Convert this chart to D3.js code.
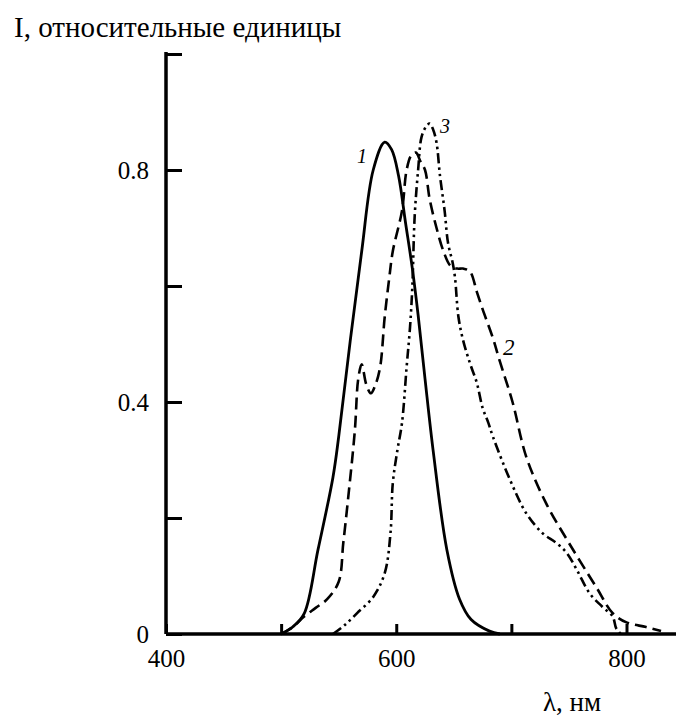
<!DOCTYPE html>
<html>
<head>
<meta charset="utf-8">
<script src="https://cdn.jsdelivr.net/npm/d3@7"></script>
<style>
  body { margin: 0; background: #fff; }
</style>
</head>
<body>
<svg id="chart" width="676" height="717"></svg>
<script>

// curve 1 (solid)
var nm_1 = [500, 510, 520, 532, 545, 550, 560, 570, 580, 590, 596, 602, 608, 614, 619, 625, 632, 644, 655, 665, 681, 690];
var int_1 = [0, 0.012, 0.035, 0.145, 0.27, 0.34, 0.505, 0.66, 0.8, 0.848, 0.835, 0.79, 0.71, 0.63, 0.55, 0.44, 0.317, 0.145, 0.06, 0.025, 0.005, 0];

// curve 2 (dashed)
var nm_2 = [500, 510, 520, 530, 540, 550, 554, 558, 564, 567, 570, 574, 578, 582, 586, 590, 594, 597, 605, 609, 613, 617, 621, 625, 629, 635, 641, 647, 653, 658, 664, 670, 675, 684, 690, 701, 713, 730, 750, 774, 788, 800, 817, 830];
var int_2 = [0, 0.012, 0.03, 0.045, 0.06, 0.09, 0.157, 0.23, 0.35, 0.44, 0.465, 0.43, 0.415, 0.43, 0.46, 0.547, 0.615, 0.66, 0.73, 0.8, 0.825, 0.83, 0.815, 0.8, 0.75, 0.7, 0.66, 0.635, 0.63, 0.63, 0.625, 0.59, 0.56, 0.51, 0.47, 0.40, 0.305, 0.226, 0.157, 0.08, 0.036, 0.02, 0.012, 0.005];

// curve 3 (dash-dot-dot)
var nm_3 = [545, 555, 566, 580, 590, 595, 597, 601, 605, 609, 612, 614, 616, 619, 622, 626, 629, 632, 635, 638, 642, 645, 649, 651, 654, 658, 664, 670, 675, 680, 684, 699, 713, 727, 739, 748, 757, 768, 779, 788, 791, 795];
var int_3 = [0, 0.015, 0.036, 0.064, 0.105, 0.174, 0.26, 0.317, 0.364, 0.46, 0.53, 0.6, 0.72, 0.8, 0.857, 0.875, 0.88, 0.87, 0.847, 0.79, 0.73, 0.674, 0.64, 0.615, 0.547, 0.507, 0.467, 0.433, 0.39, 0.364, 0.34, 0.265, 0.208, 0.174, 0.157, 0.14, 0.11, 0.07, 0.047, 0.03, 0.01, 0];

var yTicks = [0, 0.2, 0.4, 0.6, 0.8, 1.0];
var yLabels = [0, 0.4, 0.8];
var xTicks = [400, 500, 600, 700, 800];
var xLabels = [400, 600, 800];

var serif = "'Liberation Serif', 'DejaVu Serif', serif";
var svg = d3.select("#chart");

var x = d3.scaleLinear().domain([400, 843]).range([166, 676]);
var y = d3.scaleLinear().domain([0, 1]).range([634, 54]);

// axes
var yAxis = d3.axisLeft(y)
    .tickValues(yTicks)
    .tickSize(-16)
    .tickPadding(17)
    .tickFormat(function(d) { return yLabels.indexOf(d) >= 0 ? (d == 0 ? "0" : d3.format(".1f")(d)) : ""; });

var xAxis = d3.axisBottom(x)
    .tickValues(xTicks)
    .tickSize(-10)
    .tickPadding(15)
    .tickFormat(function(d) { return xLabels.indexOf(d) >= 0 ? d : ""; });

var gx = svg.append("g").attr("transform", "translate(0,634)").call(xAxis);
var gy = svg.append("g").attr("transform", "translate(166,0)").call(yAxis);

[gx, gy].forEach(function(g) {
    g.attr("font-family", null).attr("font-size", null);
    g.select(".domain").attr("stroke", "#000").attr("stroke-width", 3.5);
    g.selectAll(".tick line").attr("stroke", "#000").attr("stroke-width", 3);
    g.selectAll(".tick text")
        .style("font-family", serif)
        .style("font-size", "25px")
        .attr("fill", "#000");
});
gy.select(".domain").attr("d", "M0,634V" + (y(1) - 2));
gx.select(".domain").attr("d", "M" + x(400) + ",0H676");

// curves
var line = d3.line()
    .x(function(d) { return x(d[0]); })
    .y(function(d) { return y(d[1]); })
    .curve(d3.curveCatmullRom);

function pairs(a, b) { return a.map(function(v, i) { return [v, b[i]]; }); }

svg.append("path")
    .datum(pairs(nm_1, int_1))
    .attr("d", line)
    .attr("fill", "none").attr("stroke", "#000").attr("stroke-width", 2.8);

svg.append("path")
    .datum(pairs(nm_2, int_2))
    .attr("d", line)
    .attr("fill", "none").attr("stroke", "#000").attr("stroke-width", 2.6)
    .attr("stroke-dasharray", "12,6");

svg.append("path")
    .datum(pairs(nm_3, int_3))
    .attr("d", line)
    .attr("fill", "none").attr("stroke", "#000").attr("stroke-width", 2.6)
    .attr("stroke-dasharray", "10,4,2.5,4,2.5,4");

// curve numbers
function label(px, py, size, s) {
    svg.append("text").attr("x", px).attr("y", py)
        .style("font-family", serif).style("font-size", size + "px")
        .style("font-style", "italic").text(s);
}
label(357, 163, 20, "1");
label(503, 355, 23, "2");
label(440, 133, 20, "3");

// axis titles
svg.append("text").attr("x", 14).attr("y", 37)
    .style("font-family", serif).style("font-size", "29px")
    .text("I, относительные единицы");
svg.append("text").attr("x", 543).attr("y", 711)
    .style("font-family", serif).style("font-size", "27px")
    .text("λ, нм");

</script>
</body>
</html>
